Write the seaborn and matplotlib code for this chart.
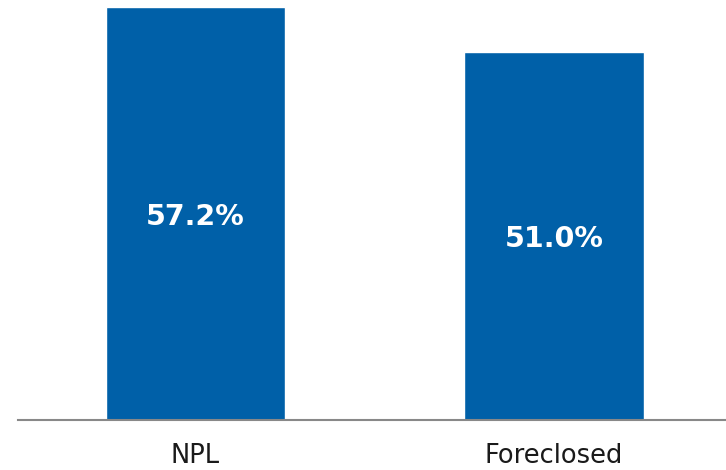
import matplotlib
matplotlib.use("Agg")
import matplotlib.pyplot as plt
import seaborn as sns
import pandas as pd

categories = ["NPL", "Foreclosed"]
values = [57.2, 51.0]
value_labels = ["57.2%", "51.0%"]

sns.set_theme(style="white")
plt.rcParams["font.family"] = ["DejaVu Sans"]

df = pd.DataFrame({"category": categories, "value": values})

fig = plt.figure(figsize=(7.26, 4.70), dpi=100)
ax = fig.add_axes([18 / 726, 50 / 470, 708 / 726, 420 / 470])

sns.barplot(data=df, x="category", y="value", color="#0060A8",
            saturation=1, width=0.5, ax=ax)

ax.set_xlim(-0.495, 1.48)
ax.set_ylim(0, 58.2)

for i, (v, lab) in enumerate(zip(values, value_labels)):
    ax.text(i, v / 2, lab, ha="center", va="center_baseline", color="white",
            fontsize=20.5, fontweight="bold")

for side in ["top", "right", "left"]:
    ax.spines[side].set_visible(False)
ax.spines["bottom"].set_color("#888888")
ax.spines["bottom"].set_linewidth(1.5)

ax.set_yticks([])
ax.set_xlabel("")
ax.set_ylabel("")
ax.tick_params(axis="x", length=0, labelsize=18.5, labelcolor="#1a1a1a", pad=16.5)

fig.savefig("out.png", dpi=100)
